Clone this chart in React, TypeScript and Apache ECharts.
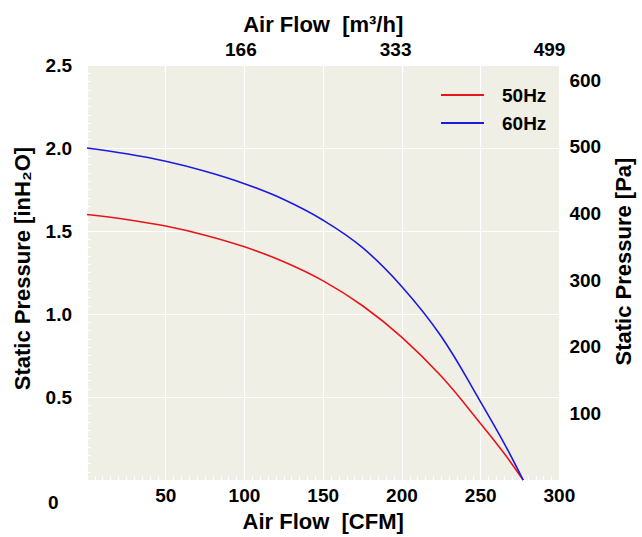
import React, { useEffect, useRef } from "react";
import * as echarts from "echarts";

const flowCFM = [0, 25, 50, 75, 100, 125, 150, 175, 200, 225, 250, 265, 277];
const hz60 = [2.0, 1.965, 1.92, 1.86, 1.785, 1.69, 1.565, 1.4, 1.165, 0.865, 0.47, 0.22, 0];
const hz50 = [1.6, 1.57, 1.53, 1.475, 1.405, 1.315, 1.2, 1.05, 0.86, 0.625, 0.34, 0.16, 0];
const topLabels = [166, 333, 499];
const seriesNames = ["50Hz", "60Hz"];

const FONT = "'Liberation Sans', Arial, sans-serif";
const WHITE = "#ffffff";

export default function App() {
  const ref = useRef<HTMLDivElement>(null);
  useEffect(() => {
    if (!ref.current) return;
    const chart = echarts.init(ref.current, undefined, { renderer: "svg" });
    const label = { fontFamily: FONT, fontWeight: "bold", fontSize: 19, color: "#000" };
    const nameStyle = { fontFamily: FONT, fontWeight: "bold", fontSize: 22, color: "#000" };
    const inTick = { show: true, inside: true, length: 6, lineStyle: { color: WHITE, width: 1 } };
    const minor = (n: number) => ({ show: true, splitNumber: n, length: 4, lineStyle: { color: WHITE, width: 1 } });
    chart.setOption({
      animation: false,
      backgroundColor: "#ffffff",
      grid: { left: 87, top: 65, right: 69, bottom: 49, show: true, backgroundColor: "#f0efe5", borderWidth: 0 },
      legend: {
        orient: "vertical",
        left: 436,
        top: 80,
        icon: "rect",
        itemWidth: 43,
        itemHeight: 2,
        itemGap: 8,
        data: seriesNames,
        textStyle: { ...label, lineHeight: 20, padding: [0, 0, 0, 13] },
      },
      xAxis: [
        {
          type: "value", position: "bottom", min: 0, max: 300, interval: 50,
          name: "Air Flow  [CFM]", nameLocation: "middle", nameGap: 28, nameTextStyle: nameStyle,
          axisLine: { show: false }, axisTick: inTick, minorTick: minor(10),
          axisLabel: { ...label, margin: 6, formatter: (v: number) => (v === 0 ? "" : String(v)) },
          splitLine: { show: true, lineStyle: { color: WHITE, width: 1.2 } },
        },
        {
          type: "value", position: "top", min: 0, max: 300, interval: 50,
          axisLine: { show: false }, axisTick: inTick, minorTick: minor(10),
          axisLabel: { show: false }, splitLine: { show: false },
        },
        {
          type: "value", position: "top", min: 0, max: 509.7,
          name: "Air Flow  [m³/h]", nameLocation: "middle", nameGap: 30, nameTextStyle: nameStyle,
          axisLine: { show: false }, axisTick: { show: false },
          axisLabel: { ...label, margin: 6, customValues: topLabels },
          splitLine: { show: false },
        },
      ],
      yAxis: [
        {
          type: "value", position: "left", min: 0, max: 2.5, interval: 0.5,
          name: "Static Pressure [inH₂O]", nameLocation: "middle", nameGap: 54,
          nameTextStyle: { ...nameStyle, padding: [0, 0, 0, 8] },
          axisLine: { show: false }, axisTick: inTick, minorTick: minor(10),
          axisLabel: { ...label, margin: 15, formatter: (v: number) => (v === 0 ? "" : v.toFixed(1)) },
          splitLine: { show: true, lineStyle: { color: WHITE, width: 1.2 } },
        },
        {
          type: "value", position: "right", min: 0, max: 622.7, interval: 100,
          name: "Static Pressure [Pa]", nameLocation: "middle", nameGap: 46,
          nameTextStyle: { ...nameStyle, padding: [0, 0, 0, 22] },
          axisLine: { show: false }, axisTick: inTick, minorTick: { ...minor(5), length: 3 },
          axisLabel: { ...label, margin: 10, formatter: (v: number) => (v === 0 || v > 600 ? "" : String(v)) },
          splitLine: { show: false },
        },
      ],
      graphic: [
        { type: "text", left: 48, top: 493, style: { text: "0", font: `bold 19px ${FONT}`, fill: "#000" } },
      ],
      series: [
        {
          name: seriesNames[0], type: "line", xAxisIndex: 0, yAxisIndex: 0, smooth: 0.4, symbol: "none",
          lineStyle: { color: "#e8141b", width: 1.6 }, itemStyle: { color: "#e8141b" },
          data: flowCFM.map((x, i) => [x, hz50[i]]),
        },
        {
          name: seriesNames[1], type: "line", xAxisIndex: 0, yAxisIndex: 0, smooth: 0.4, symbol: "none",
          lineStyle: { color: "#1a1ae0", width: 1.6 }, itemStyle: { color: "#1a1ae0" },
          data: flowCFM.map((x, i) => [x, hz60[i]]),
        },
      ],
    });
    return () => chart.dispose();
  }, []);
  return <div ref={ref} style={{ position: "fixed", left: 0, top: 0, width: 642, height: 537 }} />;
}
